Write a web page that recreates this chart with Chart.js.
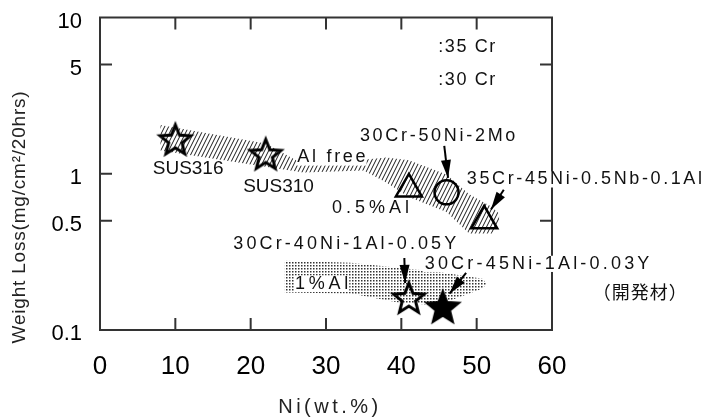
<!DOCTYPE html>
<html>
<head>
<meta charset="utf-8">
<script src="https://cdn.jsdelivr.net/npm/chart.js@4.4.1/dist/chart.umd.min.js"></script>
<style>
  html, body { margin: 0; padding: 0; background: #fff; }
  #wrap { width: 711px; height: 419px; position: relative; }
</style>
</head>
<body>
<div id="wrap"><canvas id="chart"></canvas></div>
<script>
const FONT = "'Liberation Sans', Arial, sans-serif";
const CJK = "'Noto Sans CJK JP', 'Noto Sans CJK SC', sans-serif";

// axis ticks
const xTicks = [0, 10, 20, 30, 40, 50, 60];
const yTicks = [0.1, 0.5, 1, 5, 10];

// measured points: Ni (wt.%) vs weight loss (mg/cm2/20hrs)
const openStarX = [10, 22, 41];
const openStarY = [1.65, 1.33, 0.16];
const triangleX = [41, 51];
const triangleY = [0.80, 0.50];
const circleX = [46];
const circleY = [0.76];
const filledStarX = [45.5];
const filledStarY = [0.14];

// hatched band (Al free -> 0.5%Al)
const band1X = [8, 22, 27, 35, 38, 41, 46, 49, 52, 53];
const band1Upper = [2.05, 1.56, 1.15, 1.23, 1.27, 1.22, 0.99, 0.74, 0.615, 0.555];
const band1Lower = [1.41, 1.11, 1.02, 1.05, 0.88, 0.71, 0.57, 0.415, 0.415, 0.48];

// dotted band (1%Al)
const band2X = [24.5, 33.3, 39.6, 44.8, 50.8, 51.3];
const band2Upper = [0.277, 0.269, 0.250, 0.236, 0.213, 0.198];
const band2Lower = [0.174, 0.171, 0.150, 0.144, 0.184, 0.198];

// text notes, placed in data coordinates (left edge, vertical centre)
const notes = [
  { text: ":35 Cr", x: 44.9, y: 6.47, sp: 1.6 },
  { text: ":30 Cr", x: 44.9, y: 4.0, sp: 1.6 },
  { text: "SUS316", x: 7.0, y: 1.07, sp: 0, size: 19 },
  { text: "SUS310", x: 19.0, y: 0.82, sp: 0, size: 19 },
  { text: "Al free", x: 26.2, y: 1.27, sp: 2.7 },
  { text: "0.5%Al", x: 30.8, y: 0.605, sp: 4 },
  { text: "30Cr-50Ni-2Mo", x: 34.5, y: 1.75, sp: 2.7 },
  { text: "35Cr-45Ni-0.5Nb-0.1Al", x: 48.7, y: 0.92, sp: 2.6 },
  { text: "30Cr-40Ni-1Al-0.05Y", x: 17.7, y: 0.354, sp: 3.1 },
  { text: "1%Al", x: 25.9, y: 0.198, sp: 3.7 },
  { text: "30Cr-45Ni-1Al-0.03Y", x: 43.1, y: 0.265, sp: 3.2 },
  { text: "（開発材）", x: 65.4, y: 0.174, sp: 1, cjk: true },
];

// arrows [tail x, tail y, head x, head y]
const arrows = [
  [45.7, 1.51, 46.2, 0.94],
  [53.6, 0.79, 51.9, 0.59],
  [40.4, 0.289, 40.5, 0.20],
  [48.6, 0.232, 46.4, 0.171],
];

function zip(xs, ys) {
  return xs.map((x, i) => ({ x, y: ys[i] }));
}

function starCanvas(filled) {
  const c = document.createElement("canvas");
  c.width = c.height = 40;
  const g = c.getContext("2d");
  g.beginPath();
  for (let i = 0; i < 10; i++) {
    const r = i % 2 === 0 ? 16 : 7;
    const a = -Math.PI / 2 + i * Math.PI / 5;
    const px = 20 + r * Math.cos(a), py = 21 + r * Math.sin(a);
    if (i) g.lineTo(px, py); else g.moveTo(px, py);
  }
  g.closePath();
  if (filled) { g.fillStyle = "#000"; g.fill(); }
  g.lineWidth = 3;
  g.strokeStyle = "#000";
  g.stroke();
  return c;
}

// steep "////" hatch, 4px apart
function hatchPattern() {
  const c = document.createElement("canvas");
  c.width = 4; c.height = 8;
  const g = c.getContext("2d");
  g.strokeStyle = "#1a1a1a";
  g.lineWidth = 1;
  g.beginPath();
  for (const dx of [-4, 0, 4]) {
    g.moveTo(dx - 1, 10); g.lineTo(dx + 5, -2);
  }
  g.stroke();
  return g.createPattern(c, "repeat");
}

function dotPattern() {
  const c = document.createElement("canvas");
  c.width = c.height = 3;
  const g = c.getContext("2d");
  g.fillStyle = "#333";
  g.fillRect(1, 1, 1.5, 1.5);
  return g.createPattern(c, "repeat");
}

const decor = {
  id: "decor",
  beforeDatasetsDraw(chart) {
    const { ctx, chartArea: a, scales: { x, y } } = chart;
    ctx.save();
    ctx.strokeStyle = "#333";
    ctx.lineWidth = 2;
    ctx.strokeRect(a.left, a.top, a.right - a.left, a.bottom - a.top);
    ctx.beginPath();
    xTicks.slice(1, -1).forEach(v => {
      const px = x.getPixelForValue(v);
      ctx.moveTo(px, a.bottom); ctx.lineTo(px, a.bottom - 12);
      ctx.moveTo(px, a.top); ctx.lineTo(px, a.top + 12);
    });
    yTicks.slice(1, -1).forEach(v => {
      const py = y.getPixelForValue(v);
      ctx.moveTo(a.left, py); ctx.lineTo(a.left + 12, py);
      ctx.moveTo(a.right, py); ctx.lineTo(a.right - 12, py);
    });
    ctx.stroke();
    ctx.restore();
  },
  afterDatasetsDraw(chart) {
    const { ctx, scales: { x, y } } = chart;
    ctx.save();
    // arrows
    arrows.forEach(([x1, y1, x2, y2]) => {
      const ax = x.getPixelForValue(x1), ay = y.getPixelForValue(y1);
      const bx = x.getPixelForValue(x2), by = y.getPixelForValue(y2);
      const ang = Math.atan2(by - ay, bx - ax);
      const c = Math.cos(ang), s = Math.sin(ang);
      ctx.strokeStyle = "#000";
      ctx.lineWidth = 2;
      ctx.beginPath(); ctx.moveTo(ax, ay); ctx.lineTo(bx, by); ctx.stroke();
      ctx.fillStyle = "#000";
      ctx.beginPath();
      ctx.moveTo(bx, by);
      ctx.lineTo(bx - 18 * c + 5 * s, by - 18 * s - 5 * c);
      ctx.lineTo(bx - 18 * c - 5 * s, by - 18 * s + 5 * c);
      ctx.closePath();
      ctx.fill();
    });
    // labels with white backing
    ctx.textBaseline = "middle";
    ctx.textAlign = "left";
    notes.forEach(n => {
      const size = n.size || 18;
      ctx.font = `${size}px ${n.cjk ? CJK : FONT}`;
      ctx.letterSpacing = n.sp + "px";
      const px = x.getPixelForValue(n.x), py = y.getPixelForValue(n.y);
      const w = ctx.measureText(n.text).width - n.sp;
      ctx.fillStyle = "#fff";
      ctx.fillRect(px - 1, py - size * 0.45, w + 2, size * 0.9);
      ctx.fillStyle = "#111";
      ctx.fillText(n.text, px, py);
    });
    ctx.restore();
  },
  afterDraw(chart) {
    const { ctx, chartArea: a } = chart;
    ctx.save();
    ctx.fillStyle = "#222";
    ctx.textAlign = "center";
    ctx.textBaseline = "middle";
    ctx.font = `19px ${FONT}`;
    ctx.letterSpacing = "0.8px";
    ctx.translate(20, 217);
    ctx.rotate(-Math.PI / 2);
    ctx.fillText("Weight Loss(mg/cm²/20hrs)", 0, 0);
    ctx.restore();
    ctx.save();
    ctx.fillStyle = "#222";
    ctx.textAlign = "center";
    ctx.textBaseline = "middle";
    ctx.font = `20px ${FONT}`;
    ctx.letterSpacing = "3.5px";
    ctx.fillText("Ni(wt.%)", (a.left + a.right) / 2 + 4, 407);
    ctx.restore();
  }
};

const hatch = hatchPattern();
const dots = dotPattern();
const none = "rgba(0,0,0,0)";

new Chart(document.getElementById("chart"), {
  type: "line",
  data: {
    datasets: [
      { data: zip(openStarX, openStarY), showLine: false, pointStyle: starCanvas(false), pointRadius: 16, order: 0 },
      { data: zip(filledStarX, filledStarY), showLine: false, pointStyle: starCanvas(true), pointRadius: 16, order: 0 },
      { data: zip(triangleX, triangleY), showLine: false, pointStyle: "triangle", pointRadius: 15,
        pointBorderWidth: 2.5, pointBorderColor: "#000", pointBackgroundColor: none, order: 0 },
      { data: zip(circleX, circleY), showLine: false, pointStyle: "circle", pointRadius: 12,
        pointBorderWidth: 2.5, pointBorderColor: "#000", pointBackgroundColor: none, order: 0 },
      { data: zip(band1X, band1Upper), borderColor: none, pointRadius: 0, fill: "+1", backgroundColor: hatch, order: 5 },
      { data: zip(band1X, band1Lower), borderColor: none, pointRadius: 0, fill: false, order: 5 },
      { data: zip(band2X, band2Upper), borderColor: none, pointRadius: 0, fill: "+1", backgroundColor: dots, order: 5 },
      { data: zip(band2X, band2Lower), borderColor: none, pointRadius: 0, fill: false, order: 5 },
    ]
  },
  options: {
    responsive: true,
    maintainAspectRatio: false,
    animation: false,
    layout: { padding: { top: 13, right: 159, left: 0, bottom: 0 } },
    plugins: { legend: { display: false }, tooltip: { enabled: false } },
    elements: { line: { tension: 0 } },
    scales: {
      x: {
        type: "linear", min: 0, max: 60,
        afterBuildTicks: s => { s.ticks = xTicks.map(v => ({ value: v })); },
        afterFit: s => { s.height = 89; s.paddingLeft = 0; s.paddingRight = 0; },
        grid: { display: false, drawTicks: false },
        border: { display: false },
        ticks: { padding: 21, color: "#000", maxRotation: 0, autoSkip: false, font: { family: FONT, size: 26 } }
      },
      y: {
        type: "logarithmic", min: 0.1, max: 10,
        afterBuildTicks: s => { s.ticks = yTicks.map(v => ({ value: v })); },
        afterFit: s => { s.width = 100; s.paddingTop = 0; s.paddingBottom = 0; },
        grid: { display: false, drawTicks: false },
        border: { display: false },
        ticks: { padding: 18, labelOffset: 4, color: "#000", autoSkip: false, callback: v => String(v),
                 font: { family: FONT, size: 22 } }
      }
    }
  },
  plugins: [decor]
});
</script>
</body>
</html>
